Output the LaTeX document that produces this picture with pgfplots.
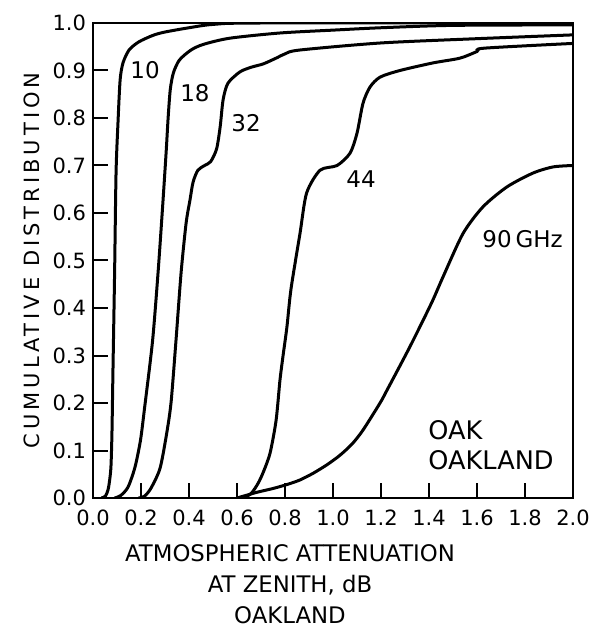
\documentclass[border=0pt]{standalone}
\usepackage{fontspec}
\setmainfont{DejaVu Sans}
\usepackage{pgfplots}
\pgfplotsset{compat=1.18}
\pgfplotsset{curve/.style={black, line width=1.5pt, smooth, tension=0.45, mark=none}}
\begin{document}
\begin{tikzpicture}
\begin{axis}[
  scale only axis, width=240pt, height=237.5pt,
  xmin=0, xmax=2, ymin=0, ymax=1,
  xtick={0,0.2,0.4,0.6,0.8,1.0,1.2,1.4,1.6,1.8,2.0},
  xticklabels={0.0,0.2,0.4,0.6,0.8,1.0,1.2,1.4,1.6,1.8,2.0},
  ytick={0,0.1,0.2,0.3,0.4,0.5,0.6,0.7,0.8,0.9,1.0},
  yticklabels={0.0,0.1,0.2,0.3,0.4,0.5,0.6,0.7,0.8,0.9,1.0},
  tick align=inside, xtick pos=left, ytick pos=left,
  major tick length=7.5pt,
  every tick/.style={black, line width=1pt},
  axis line style={line width=1pt},
  tick label style={font=\fontsize{10.5}{12}\selectfont},
  xticklabel style={yshift=-2.5pt},
]
% 10 GHz
\addplot[curve] coordinates {(0.035,0) (0.052,0.004) (0.063,0.018) (0.07,0.04) (0.075,0.068) (0.079,0.137) (0.083,0.263) (0.09,0.474) (0.096,0.684) (0.104,0.789) (0.113,0.88) (0.125,0.916) (0.15,0.943) (0.19,0.96) (0.25,0.974) (0.3,0.981) (0.4,0.99) (0.5,0.997) (0.7,1.0) (2.0,1.0)};
% 18 GHz
\addplot[curve] coordinates {(0.09,0) (0.115,0.005) (0.146,0.023) (0.175,0.065) (0.198,0.122) (0.215,0.19) (0.248,0.33) (0.271,0.474) (0.29,0.613) (0.305,0.73) (0.313,0.8) (0.322,0.86) (0.335,0.895) (0.36,0.922) (0.408,0.943) (0.46,0.955) (0.57,0.968) (0.78,0.979) (1.0,0.985) (1.2,0.99) (1.5,0.995) (2.0,0.996)};
% 32 GHz
\addplot[curve] coordinates {(0.19,0) (0.215,0.004) (0.242,0.021) (0.279,0.062) (0.305,0.13) (0.325,0.2) (0.346,0.333) (0.367,0.474) (0.388,0.579) (0.404,0.627) (0.417,0.665) (0.437,0.69) (0.465,0.7) (0.49,0.708) (0.515,0.735) (0.53,0.782) (0.542,0.838) (0.562,0.873) (0.612,0.897) (0.66,0.907) (0.71,0.914) (0.767,0.927) (0.8,0.935) (0.86,0.943) (1.2,0.958) (1.6,0.967) (2.0,0.975)};
% 44 GHz
\addplot[curve] coordinates {(0.6,0) (0.633,0.002) (0.66,0.01) (0.688,0.031) (0.71,0.055) (0.738,0.095) (0.763,0.164) (0.779,0.248) (0.792,0.3) (0.808,0.36) (0.825,0.44) (0.8625,0.557) (0.89,0.642) (0.946,0.69) (1.017,0.70) (1.071,0.726) (1.10,0.768) (1.125,0.831) (1.154,0.865) (1.196,0.886) (1.279,0.90) (1.417,0.916) (1.529,0.926) (1.6,0.94) (1.63,0.947) (2.0,0.957)};
% 90 GHz
\addplot[curve] coordinates {(0.6,0) (0.683,0.012) (0.75,0.02) (0.8125,0.029) (0.8625,0.038) (0.917,0.052) (0.975,0.07) (1.029,0.09) (1.08,0.114) (1.125,0.143) (1.196,0.2) (1.225,0.227) (1.32,0.318) (1.41,0.41) (1.458,0.465) (1.542,0.557) (1.625,0.613) (1.725,0.655) (1.833,0.684) (1.917,0.697) (2.0,0.70)};
\node[font=\fontsize{11.5}{13}\selectfont] at (axis cs:0.217,0.90) {10};
\node[font=\fontsize{11.5}{13}\selectfont] at (axis cs:0.425,0.853) {18};
\node[font=\fontsize{11.5}{13}\selectfont] at (axis cs:0.638,0.79) {32};
\node[font=\fontsize{11.5}{13}\selectfont] at (axis cs:1.117,0.671) {44};
\node[font=\fontsize{11.5}{13}\selectfont] at (axis cs:1.79,0.545) {90\,GHz};
\node[font=\fontsize{12.8}{15}\selectfont, anchor=west, inner sep=0pt] at (axis cs:1.396,0.143) {OAK};
\node[font=\fontsize{12.8}{15}\selectfont, anchor=west, inner sep=0pt] at (axis cs:1.396,0.08) {OAKLAND};
\end{axis}
\node[rotate=90, inner sep=0pt, font=\fontsize{10.5}{12}\selectfont\addfontfeature{LetterSpace=19}] at (-30.5pt,118.75pt) {CUMULATIVE DISTRIBUTION};
\node[anchor=north, align=center, inner sep=0pt, font=\fontsize{11.4}{15.5}\selectfont] at (98.5pt,-23pt) {ATMOSPHERIC ATTENUATION\\AT ZENITH, dB\\OAKLAND};
\path (-46.5pt,-67pt) rectangle (254pt,249pt);
\end{tikzpicture}
\end{document}
